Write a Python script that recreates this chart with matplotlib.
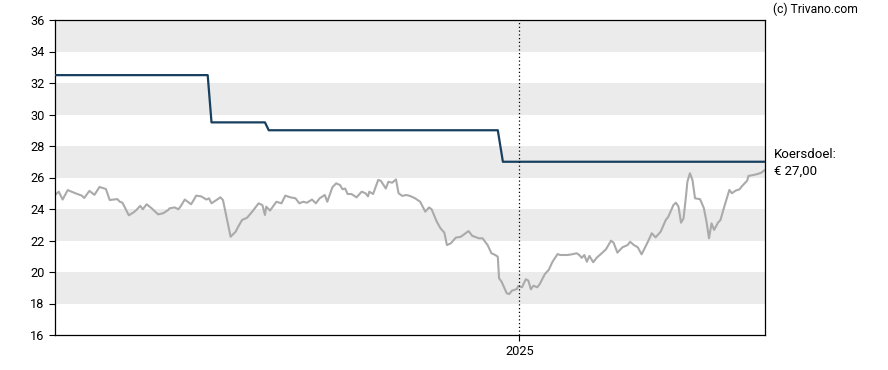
import pandas as pd
import matplotlib.pyplot as plt
import matplotlib.dates as mdates

plt.rcParams['font.family'] = ['Roboto', 'DejaVu Sans']

start = pd.Timestamp('2024-01-02')
end = pd.Timestamp('2025-07-13')

# Koers (days since start, closing price)
koersDagen = [0, 3, 6, 10, 16, 21, 23, 27, 31, 35, 40, 43, 49, 51, 53, 58, 62, 64, 67, 69,
              72, 76, 81, 85, 89, 90, 94, 97, 99, 102, 107, 111, 115, 119, 121, 123, 130, 132, 138, 142,
              144, 147, 151, 155, 160, 163, 165, 166, 169, 174, 178, 181, 185, 189, 192, 195, 198, 202, 205, 208,
              212, 214, 218, 221, 224, 226, 228, 230, 233, 237, 241, 244, 246, 247, 250, 254, 256, 260, 262, 265,
              268, 270, 273, 276, 279, 283, 287, 291, 294, 296, 300, 303, 306, 308, 311, 315, 319, 325, 328, 330,
              333, 336, 340, 343, 346, 348, 349, 351, 355, 357, 359, 363, 364, 367, 370, 372, 374, 376, 379, 381,
              385, 388, 391, 395, 397, 403, 406, 410, 412, 414, 416, 418, 420, 423, 426, 429, 433, 437, 439, 442,
              446, 450, 452, 455, 458, 461, 464, 467, 469, 472, 476, 480, 482, 486, 488, 490, 492, 494, 496, 497,
              499, 501, 503, 507, 510, 512, 514, 516, 518, 521, 523, 526, 530, 532, 535, 538, 540, 544, 545, 549,
              552, 555, 558]
koers = [24.89, 25.1, 24.6, 25.2, 25.0, 24.85, 24.7, 25.15, 24.9, 25.4, 25.27, 24.57, 24.63, 24.46, 24.4, 23.6, 23.8, 23.94, 24.2, 23.98,
         24.3, 24.04, 23.66, 23.73, 23.94, 24.04, 24.1, 23.98, 24.2, 24.6, 24.3, 24.85, 24.8, 24.6, 24.68, 24.36, 24.74, 24.57, 22.24, 22.56,
         22.88, 23.3, 23.45, 23.83, 24.36, 24.25, 23.62, 24.15, 23.9, 24.46, 24.36, 24.85, 24.74, 24.68, 24.36, 24.46, 24.4, 24.6, 24.36, 24.68,
         24.89, 24.46, 25.38, 25.63, 25.52, 25.25, 25.3, 24.95, 24.95, 24.74, 25.1, 25.0, 24.8, 25.1, 24.95, 25.84, 25.8, 25.3, 25.73, 25.67,
         25.88, 25.0, 24.83, 24.89, 24.83, 24.68, 24.46, 23.83, 24.1, 23.98, 23.2, 22.77, 22.5, 21.71, 21.82, 22.18, 22.24, 22.6, 22.29, 22.24,
         22.14, 22.14, 21.71, 21.19, 21.08, 20.97, 19.6, 19.38, 18.65, 18.6, 18.81, 18.92, 19.11, 19.03, 19.54, 19.45, 18.9, 19.13, 19.03, 19.24,
         19.87, 20.13, 20.65, 21.14, 21.08, 21.08, 21.12, 21.19, 21.08, 20.9, 21.08, 20.65, 21.02, 20.62, 20.93, 21.14, 21.44, 21.99, 21.86, 21.23,
         21.57, 21.71, 21.92, 21.71, 21.57, 21.12, 21.6, 22.1, 22.46, 22.2, 22.56, 23.3, 23.51, 24.25, 24.4, 24.15, 23.13, 23.41, 24.89, 25.73,
         26.27, 25.84, 24.68, 24.62, 24.04, 23.2, 22.14, 23.09, 22.67, 23.13, 23.3, 24.15, 25.21, 25.0, 25.17, 25.25, 25.46, 25.8, 26.1, 26.16,
         26.22, 26.3, 26.48]

# Koersdoel (step line)
doelDagen = [0, 120, 123, 165, 168, 348, 352, 559]
doel = [32.5, 32.5, 29.5, 29.5, 29.0, 29.0, 27.0, 27.0]

koersDatum = start + pd.to_timedelta(koersDagen, unit='D')
doelDatum = start + pd.to_timedelta(doelDagen, unit='D')

fig = plt.figure(figsize=(8.88, 3.7), dpi=100)
ax = fig.add_axes([55 / 888, 35 / 370, 710 / 888, 315 / 370])

# grey bands
for lo in range(18, 36, 4):
    ax.axhspan(lo, lo + 2, color='#ebebeb', lw=0, zorder=0)

ax.plot(koersDatum, koers, color='#aaaaaa', lw=1.5, zorder=2)
ax.plot(doelDatum, doel, color='#173f5f', lw=1.6, zorder=3)

jaar = pd.Timestamp('2025-01-01')
ax.axvline(jaar, color='black', lw=0.9, ls=(0, (1, 2)), zorder=4)

ax.set_xlim(start, end)
ax.set_ylim(16, 36)
ax.set_yticks(range(16, 37, 2))
ax.set_xticks([jaar])
ax.xaxis.set_major_formatter(mdates.DateFormatter('%Y'))
ax.tick_params(labelsize=9.2, length=4, width=0.8, colors='black')
for s in ax.spines.values():
    s.set_linewidth(0.9)

fig.text(773 / 888, 1 - 9 / 370, '(c) Trivano.com', fontsize=8.7, va='center', ha='left')
fig.text(774 / 888, 1 - 154 / 370, 'Koersdoel:', fontsize=9.5, va='center', ha='left')
fig.text(774 / 888, 1 - 171 / 370, '€ 27,00', fontsize=9.5, va='center', ha='left')

fig.savefig('out.png', dpi=100)
